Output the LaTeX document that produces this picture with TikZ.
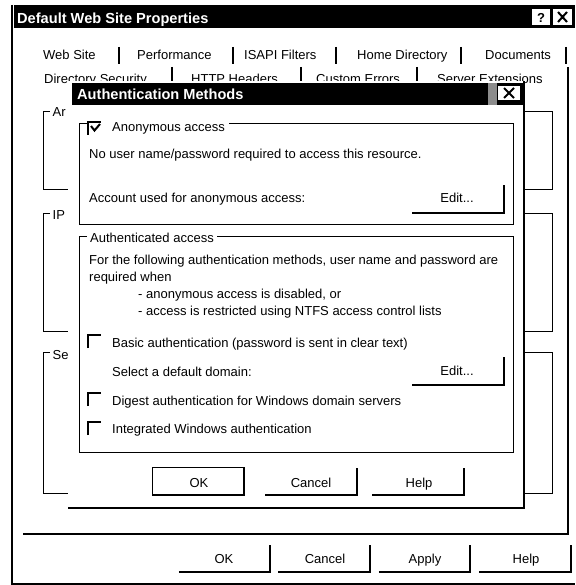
\documentclass[tikz,border=0pt]{standalone}
\usepackage{fontspec}
\setmainfont{Liberation Sans}
\usetikzlibrary{calc}
\begin{document}
\begin{tikzpicture}[x=1pt,y=-1pt,
  txt/.style={anchor=base west,inner sep=0pt,font=\fontsize{13}{15}\selectfont},
  ctxt/.style={anchor=base,inner sep=0pt,font=\fontsize{13}{15}\selectfont},
  ttl/.style={anchor=base west,inner sep=0pt,text=white,font=\bfseries\fontsize{14.6}{17}\selectfont},
  glbl/.style={anchor=base west,inner sep=1.5pt,fill=white,font=\fontsize{13}{15}\selectfont},
  gline/.style={line width=1pt},
  tabsep/.style={line width=2.5pt},
  shade/.style={line width=2pt},
  cbox/.style={line width=2pt},
  btnbox/.style={inner sep=0pt,minimum width=91pt,minimum height=27pt},
]
\useasboundingbox (0,0) rectangle (575,585);
\fill[white] (0,0) rectangle (575,585);

% ---------- outer window ----------
\fill[black] (14,5) rectangle (575,28);
\node[ttl] (title) at (17,24) {Default Web Site Properties};
\fill[white] (532,9) rectangle (550,25);
\node[anchor=base,inner sep=0pt,font=\bfseries\fontsize{13}{15}\selectfont] (qmark) at (541,23) {?};
\fill[white] (553,9) rectangle (572,25);
\coordinate (xa) at (558,12); \coordinate (xb) at (567,22);
\coordinate (xc) at (567,12); \coordinate (xd) at (558,22);
\draw[line width=2pt] (xa) -- (xb) (xc) -- (xd);
\draw[line width=2pt] (12,5) -- (12,583.5) -- (575,583.5);

% tabs row 1
\node[txt] (t1) at (43,60) {Web Site};
\node[txt] (t2) at (137,60) {Performance};
\node[txt] (t3) at (244,60) {ISAPI Filters};
\node[txt] (t4) at (357,60) {Home Directory};
\node[txt] (t5) at (485,60) {Documents};
\foreach \x in {119,233,336,461,566} \draw[tabsep] (\x,47) -- (\x,64);
% tabs row 2
\node[txt] (u1) at (44,83.5) {Directory Security};
\node[txt] (u2) at (191,83.5) {HTTP Headers};
\node[txt] (u3) at (316,83.5) {Custom Errors};
\node[txt] (u4) at (437,83.5) {Server Extensions};
\foreach \x in {172,301,417} \draw[tabsep] (\x,67) -- (\x,82);
% tab panel
\draw[shade] (23,534) -- (568,534) -- (568,67);

% background group boxes
\draw[gline] (43,112) rectangle (552,190);
\draw[gline] (43,213) rectangle (552,331);
\draw[gline] (43,352) rectangle (552,493);
\fill[white] (50,110) rectangle (69,114);
\fill[white] (50,211) rectangle (69,215);
\fill[white] (50,350) rectangle (69,354);
\node[glbl] (gar) at (51,117) {Ar};
\node[glbl] (gip) at (51,219.5) {IP};
\node[glbl] (gse) at (51,359) {Se};

% outer buttons
\node[btnbox] (bok) at (224.5,558.5) {};
\node[btnbox] (bcancel) at (324,558.5) {};
\node[btnbox] (bapply) at (424.5,558.5) {};
\node[btnbox] (bhelp) at (525,558.5) {};
\foreach \b in {bok,bcancel,bapply,bhelp}
  \draw[shade] (\b.south west) -- (\b.south east) -- (\b.north east);
\node[ctxt] (lok) at (224,563) {OK};
\node[ctxt] (lcancel) at (325,563) {Cancel};
\node[ctxt] (lapply) at (425,563) {Apply};
\node[ctxt] (lhelp) at (526,563) {Help};

% ---------- Authentication Methods dialog ----------
\fill[white] (68,81) rectangle (525,509);
\draw[shade] (68,508) -- (524,508) -- (524,81);
\fill[black] (72,83) rectangle (523,105);
\node[ttl] (dtitle) at (77,100) {Authentication Methods};
\fill[black!45] (488,83) rectangle (497,105);
\fill[white] (498,86) rectangle (520,100);
\coordinate (ya) at (504,88); \coordinate (yb) at (514,98);
\coordinate (yc) at (514,88); \coordinate (yd) at (504,98);
\draw[line width=2pt] (ya) -- (yb) (yc) -- (yd);

% anonymous access group
\node[txt] (anon) at (112,131.5) {Anonymous access};
\draw[gline] (88,124) -- (79,124) -- (79,224) -- (513,224) -- (513,124) -- ($(anon.east |- 0,124)+(4,0)$);
\draw[cbox] (88,135) -- (88,122) -- (101,122);
\draw[line width=2pt] (91,126) -- (94.5,130.5) -- (100,124);
\node[txt] (nouser) at (89,159) {No user name/password required to access this resource.};
\node[txt] (account) at (89,203) {Account used for anonymous access:};
\node[btnbox] (edit1) at (458,199) {};
\draw[shade] (edit1.south west) -- (edit1.south east) -- (edit1.north east);
\node[ctxt] (ledit1) at (457,203) {Edit...};

% authenticated access group
\node[txt] (authlbl) at (90,242) {Authenticated access};
\draw[gline] (87,236) -- (79,236) -- (79,452) -- (513,452) -- (513,236) -- ($(authlbl.east |- 0,236)+(3,0)$);
\node[txt] (for) at (89,264) {For the following authentication methods, user name and password are};
\node[txt] (req) at (89,281) {required when};
\node[txt] (dis) at (138,298) {- anonymous access is disabled, or};
\node[txt] (ntfs) at (138,315) {- access is restricted using NTFS access control lists};
\draw[cbox] (88,348) -- (88,335) -- (101,335);
\node[txt] (basic) at (112,347) {Basic authentication (password is sent in clear text)};
\node[txt] (domain) at (112,376) {Select a default domain:};
\node[btnbox] (edit2) at (458,371) {};
\draw[shade] (edit2.south west) -- (edit2.south east) -- (edit2.north east);
\node[ctxt] (ledit2) at (457,375) {Edit...};
\draw[cbox] (88,406) -- (88,393) -- (101,393);
\node[txt] (digest) at (112,405) {Digest authentication for Windows domain servers};
\draw[cbox] (88,435) -- (88,422) -- (101,422);
\node[txt] (integ) at (112,433) {Integrated Windows authentication};

% dialog buttons
\node[btnbox] (dok) at (198.5,481.5) {};
\node[btnbox] (dcancel) at (311,481.5) {};
\node[btnbox] (dhelp) at (418,481.5) {};
\draw[gline] (dok.south west) rectangle (dok.north east);
\foreach \b in {dok,dcancel,dhelp}
  \draw[shade] (\b.south west) -- (\b.south east) -- (\b.north east);
\node[ctxt] (ldok) at (199,487) {OK};
\node[ctxt] (ldcancel) at (311,487) {Cancel};
\node[ctxt] (ldhelp) at (419,487) {Help};
\end{tikzpicture}
\end{document}
